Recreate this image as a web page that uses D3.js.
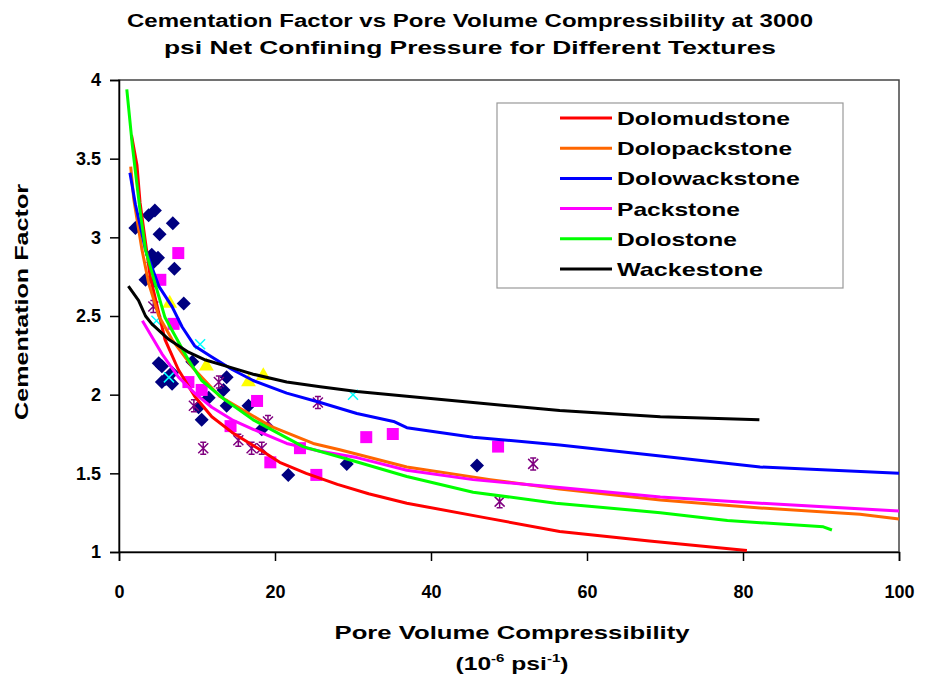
<!DOCTYPE html>
<html>
<head>
<meta charset="utf-8">
<script src="https://cdn.jsdelivr.net/npm/d3@7"></script>
<style>
  html, body { margin: 0; padding: 0; background: #fff; }
  svg { display: block; font-family: "Liberation Sans", Arial, sans-serif; }
</style>
</head>
<body>
<svg id="chart" width="925" height="679"></svg>
<script>
// ---------------- DATA ----------------
const titleLines = ["Cementation Factor vs Pore Volume Compressibility at 3000",
                    "psi Net Confining Pressure for Different Textures"];
const xTicks = [0, 20, 40, 60, 80, 100];
const yTicks = [1, 1.5, 2, 2.5, 3, 3.5, 4];
const seriesNames = ["Dolomudstone", "Dolopackstone", "Dolowackstone", "Packstone", "Dolostone", "Wackestone"];
const seriesColors = ["#ff0000", "#ff6600", "#0000ff", "#ff00ff", "#00ff00", "#000000"];

// fitted curves [compressibility, cementation factor]
const dolomudstone = [[1.6,3.65],[2.3,3.46],[2.7,3.22],[4.0,2.75],[5.9,2.35],[7.6,2.16],[9.7,1.99],[11.9,1.86],[14.5,1.76],[18.1,1.65],[20.6,1.57],[24,1.50],[28,1.43],[32,1.37],[36.9,1.31],[46.7,1.22],[56.5,1.13],[68,1.07],[80.5,1.01]];
const dolopackstone = [[1.5,3.45],[1.9,3.24],[2.95,2.92],[3.8,2.71],[5.1,2.50],[6.8,2.35],[9.5,2.17],[12.9,1.99],[19.4,1.80],[24.9,1.69],[28.3,1.65],[36.9,1.54],[47.6,1.46],[56.5,1.40],[69.4,1.33],[82.2,1.28],[95,1.24],[100,1.21]];
const dolowackstone = [[1.4,3.41],[2.1,3.21],[3.4,2.92],[5.1,2.69],[6.8,2.56],[8.1,2.43],[9.7,2.31],[11.9,2.24],[14.5,2.16],[17.2,2.09],[21.5,2.01],[25.8,1.95],[30.5,1.88],[35.2,1.83],[36.9,1.79],[45.4,1.73],[56.5,1.68],[69.4,1.61],[82.2,1.54],[100,1.50]];
const packstone = [[3.0,2.47],[5.5,2.26],[7.65,2.11],[9.7,2.01],[11.9,1.92],[14.5,1.84],[17.2,1.78],[21.5,1.69],[25.8,1.64],[30.5,1.60],[36.9,1.52],[45.4,1.46],[56.5,1.41],[69.4,1.35],[82.2,1.31],[100,1.26]];
const dolostone = [[1.0,3.94],[1.7,3.59],[2.1,3.42],[2.7,3.17],[3.4,2.92],[4.6,2.71],[5.9,2.49],[8.9,2.22],[10.6,2.09],[13.5,1.97],[17.2,1.84],[23.6,1.67],[30,1.58],[36.9,1.48],[45.4,1.38],[56,1.31],[69.4,1.25],[78,1.20],[90.3,1.16],[91.4,1.14]];
const wackestone = [[1.2,2.69],[2.5,2.60],[3.4,2.50],[4.2,2.45],[6.4,2.35],[8.9,2.27],[11.1,2.22],[14.5,2.17],[17.2,2.13],[21.5,2.08],[25.8,2.05],[30.5,2.02],[36.9,1.99],[45.4,1.95],[56.5,1.90],[69.4,1.86],[82.1,1.84]];

// measured samples [compressibility, cementation factor]
const diamondPts = [[2.1,3.06],[3.8,3.14],[4.6,3.17],[6.9,3.09],[5.2,3.02],[4.2,2.89],[5.0,2.87],[4.4,2.84],[7.1,2.80],[3.4,2.73],[4.7,2.72],[8.3,2.58],[5.1,2.20],[5.5,2.18],[6.8,2.14],[5.5,2.08],[6.8,2.07],[6.0,2.10],[9.4,2.21],[13.8,2.11],[13.4,2.03],[11.5,1.98],[10.2,1.92],[10.6,1.84],[13.8,1.93],[16.6,1.93],[18.3,1.78],[21.7,1.49],[29.2,1.56],[45.9,1.55]];
const squarePts = [[7.6,2.90],[5.3,2.73],[7.0,2.45],[8.9,2.08],[10.6,2.03],[14.3,1.80],[17.7,1.96],[19.4,1.57],[23.2,1.66],[25.3,1.49],[31.7,1.73],[35.1,1.75],[48.6,1.67]];
const trianglePts = [[6.5,2.58],[11.2,2.18],[16.6,2.08],[18.5,2.12]];
const starPts = [[4.4,2.56],[12.8,2.08],[9.6,1.93],[10.8,1.66],[15.3,1.71],[17.0,1.66],[18.3,1.66],[19.1,1.83],[25.5,1.95],[48.8,1.32],[53.1,1.56]];
const crossPts = [[4.8,2.47],[6.4,2.11],[10.4,2.32],[30,2.0]];

const curves = [dolomudstone, dolopackstone, dolowackstone, packstone, dolostone, wackestone];
const legendTextWidths = [173, 175, 183, 123, 120, 146];

// ---------------- LAYOUT ----------------
const svg = d3.select("#chart");
const L = 119, R = 899, T = 80, B = 552;
const x = d3.scaleLinear().domain([0, 100]).range([L, R]);
const y = d3.scaleLinear().domain([1, 4]).range([B, T]);
const bold = "bold";

// title
svg.selectAll("text.title").data(titleLines).enter().append("text")
  .attr("class", "title")
  .attr("x", 470).attr("y", (d, i) => 27 + i * 27)
  .attr("text-anchor", "middle")
  .attr("font-size", 18).attr("font-weight", bold)
  .attr("textLength", (d, i) => i === 0 ? 686 : 612)
  .attr("lengthAdjust", "spacingAndGlyphs")
  .text(d => d);

// frame
svg.append("rect").attr("x", L).attr("y", T).attr("width", R - L).attr("height", B - T)
  .attr("fill", "none").attr("stroke", "#444").attr("stroke-width", 1.5);

// axes
const xAxis = svg.append("g").attr("transform", `translate(0,${B})`)
  .call(d3.axisBottom(x).tickValues(xTicks).tickSize(9).tickPadding(24).tickFormat(d3.format("d")));
const yAxis = svg.append("g").attr("transform", `translate(${L},0)`)
  .call(d3.axisLeft(y).tickValues(yTicks).tickSize(9).tickPadding(9).tickFormat(d => String(d)));
[xAxis, yAxis].forEach(g => {
  g.select(".domain").attr("stroke", "#000").attr("stroke-width", 1.5);
  g.selectAll(".tick line").attr("stroke", "#000").attr("stroke-width", 1.5);
  g.selectAll(".tick text").attr("font-size", 18).attr("font-weight", bold)
    .attr("font-family", "'Liberation Sans', Arial, sans-serif").attr("fill", "#000");
});

// axis titles
svg.append("text").attr("x", 512).attr("y", 639).attr("text-anchor", "middle")
  .attr("font-size", 18).attr("font-weight", bold)
  .attr("textLength", 355).attr("lengthAdjust", "spacingAndGlyphs")
  .text("Pore Volume Compressibility");
const unit = svg.append("text").attr("x", 512).attr("y", 670).attr("text-anchor", "middle")
  .attr("font-size", 18).attr("font-weight", bold)
  .attr("textLength", 113).attr("lengthAdjust", "spacingAndGlyphs");
unit.append("tspan").text("(10");
unit.append("tspan").attr("dy", -8).attr("font-size", 11).text("-6");
unit.append("tspan").attr("dy", 8).text(" psi");
unit.append("tspan").attr("dy", -8).attr("font-size", 11).text("-1");
unit.append("tspan").attr("dy", 8).text(")");

svg.append("text").attr("transform", "translate(28,302) rotate(-90)")
  .attr("text-anchor", "middle").attr("font-size", 18).attr("font-weight", bold)
  .attr("textLength", 236).attr("lengthAdjust", "spacingAndGlyphs")
  .text("Cementation Factor");

// ---------------- MARKERS ----------------
const plot = svg.append("g");
plot.selectAll("path.dia").data(diamondPts).enter().append("path")
  .attr("d", d3.symbol().type(d3.symbolSquare).size(98))
  .attr("transform", d => `translate(${x(d[0])},${y(d[1])}) rotate(45)`)
  .attr("fill", "#000080");
plot.selectAll("path.sq").data(squarePts).enter().append("path")
  .attr("d", d3.symbol().type(d3.symbolSquare).size(144))
  .attr("transform", d => `translate(${x(d[0])},${y(d[1])})`)
  .attr("fill", "#ff00ff");
plot.selectAll("path.tri").data(trianglePts).enter().append("path")
  .attr("d", d3.symbol().type(d3.symbolTriangle).size(95))
  .attr("transform", d => `translate(${x(d[0])},${y(d[1])})`)
  .attr("fill", "#ffff00");
const starPath = "M-5,-5L5,5M-5,5L5,-5M0,-6L0,6M-3,-6L3,-6M-3,6L3,6";
plot.selectAll("path.star").data(starPts).enter().append("path")
  .attr("d", starPath)
  .attr("transform", d => `translate(${x(d[0])},${y(d[1])})`)
  .attr("fill", "none").attr("stroke", "#800080").attr("stroke-width", 1.5);
const crossPath = "M-5,-5L5,5M-5,5L5,-5";
plot.selectAll("path.cross").data(crossPts).enter().append("path")
  .attr("d", crossPath)
  .attr("transform", d => `translate(${x(d[0])},${y(d[1])})`)
  .attr("fill", "none").attr("stroke", "#00ffff").attr("stroke-width", 1.5);

// ---------------- CURVES ----------------
const line = d3.line().x(d => x(d[0])).y(d => y(d[1]));
plot.selectAll("path.curve").data(curves).enter().append("path")
  .attr("d", line)
  .attr("fill", "none")
  .attr("stroke", (d, i) => seriesColors[i])
  .attr("stroke-width", 3)
  .attr("stroke-linejoin", "round");

// ---------------- LEGEND ----------------
const lg = svg.append("g");
lg.append("rect").attr("x", 497).attr("y", 103).attr("width", 346).attr("height", 185)
  .attr("fill", "#fff").attr("stroke", "#999").attr("stroke-width", 1.2);
const items = lg.selectAll("g.item").data(seriesNames).enter().append("g")
  .attr("transform", (d, i) => `translate(0,${118 + i * 30.2})`);
items.append("line").attr("x1", 560).attr("x2", 612).attr("y1", 0).attr("y2", 0)
  .attr("stroke", (d, i) => seriesColors[i]).attr("stroke-width", 3);
items.append("text").attr("x", 617).attr("y", 7)
  .attr("font-size", 19).attr("font-weight", bold)
  .attr("textLength", (d, i) => legendTextWidths[i]).attr("lengthAdjust", "spacingAndGlyphs")
  .text(d => d);
</script>
</body>
</html>
